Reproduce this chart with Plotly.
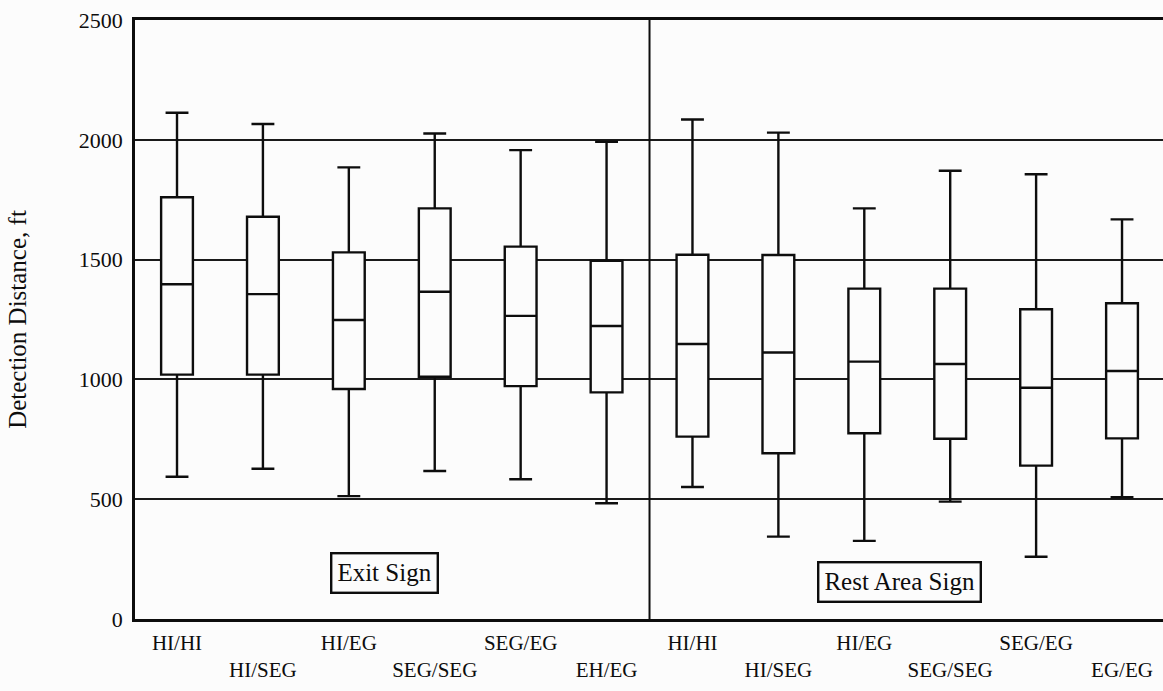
import plotly.graph_objects as go

categories = ["HI/HI", "HI/SEG", "HI/EG", "SEG/SEG", "SEG/EG", "EH/EG",
              "HI/HI", "HI/SEG", "HI/EG", "SEG/SEG", "SEG/EG", "EG/EG"]
upper_whisker = [2113, 2066, 1885, 2026, 1957, 1992, 2085, 2030, 1714, 1871, 1856, 1668]
q3_values     = [1760, 1679, 1530, 1714, 1554, 1495, 1520, 1519, 1379, 1379, 1293, 1318]
median_values = [1397, 1356, 1248, 1366, 1265, 1223, 1148, 1112, 1074, 1064,  965, 1035]
q1_values     = [1020, 1020,  960, 1011,  972,  946,  761,  692,  775,  752,  640,  754]
lower_whisker = [ 594,  627,  513,  618,  583,  483,  551,  344,  326,  490,  260,  508]
group_labels = ["Exit Sign", "Rest Area Sign"]
y_ticks = [0, 500, 1000, 1500, 2000, 2500]

positions = list(range(len(categories)))
tick_text = [c if i % 2 == 0 else "<br>" + c for i, c in enumerate(categories)]

BG = "#fcfcfc"
INK = "#0d0d0d"
FONT = "Liberation Serif, Times New Roman, serif"

fig = go.Figure()
fig.add_trace(go.Box(
    x=positions,
    q1=q1_values, median=median_values, q3=q3_values,
    lowerfence=lower_whisker, upperfence=upper_whisker,
    width=0.37, whiskerwidth=0.72,
    line=dict(color=INK, width=2.4),
    fillcolor=BG,
    boxpoints=False,
    showlegend=False,
    hoverinfo="skip",
))

# divider between the two sign groups
fig.add_shape(type="line", xref="x", yref="y", x0=5.5, x1=5.5, y0=0, y1=2500,
              line=dict(color=INK, width=2))

# group label boxes
fig.add_annotation(x=2.41, y=0.0776, xref="x", yref="paper", yanchor="middle",
                   text=group_labels[0],
                   showarrow=False, font=dict(family=FONT, size=25, color=INK),
                   bordercolor=INK, borderwidth=2.4, borderpad=5, bgcolor=BG)
fig.add_annotation(x=8.405, y=0.0618, xref="x", yref="paper", yanchor="middle",
                   text=group_labels[1],
                   showarrow=False, font=dict(family=FONT, size=25, color=INK),
                   bordercolor=INK, borderwidth=2.4, borderpad=5, bgcolor=BG)

fig.update_layout(
    width=1163, height=691,
    margin=dict(l=135, r=0, t=20, b=72),
    paper_bgcolor=BG, plot_bgcolor=BG,
    font=dict(family=FONT, size=21, color=INK),
    xaxis=dict(
        range=[-0.489, 11.477],
        tickvals=positions, ticktext=tick_text,
        showgrid=False, zeroline=False,
        showline=True, mirror=True, linecolor=INK, linewidth=2.6,
        ticks="", ticklabelstandoff=3,
        tickfont=dict(family=FONT, size=21, color=INK),
    ),
    yaxis=dict(
        range=[0, 2500],
        tickvals=y_ticks,
        showgrid=True, gridcolor="#1a1a1a", gridwidth=2,
        zeroline=False,
        showline=True, linecolor=INK, linewidth=2.6,
        ticks="", ticklabelstandoff=5,
        tickfont=dict(family=FONT, size=22, color=INK),
        title=dict(text="Detection Distance, ft", standoff=46,
                   font=dict(family=FONT, size=25, color=INK)),
    ),
)

fig.write_html("out.html")
